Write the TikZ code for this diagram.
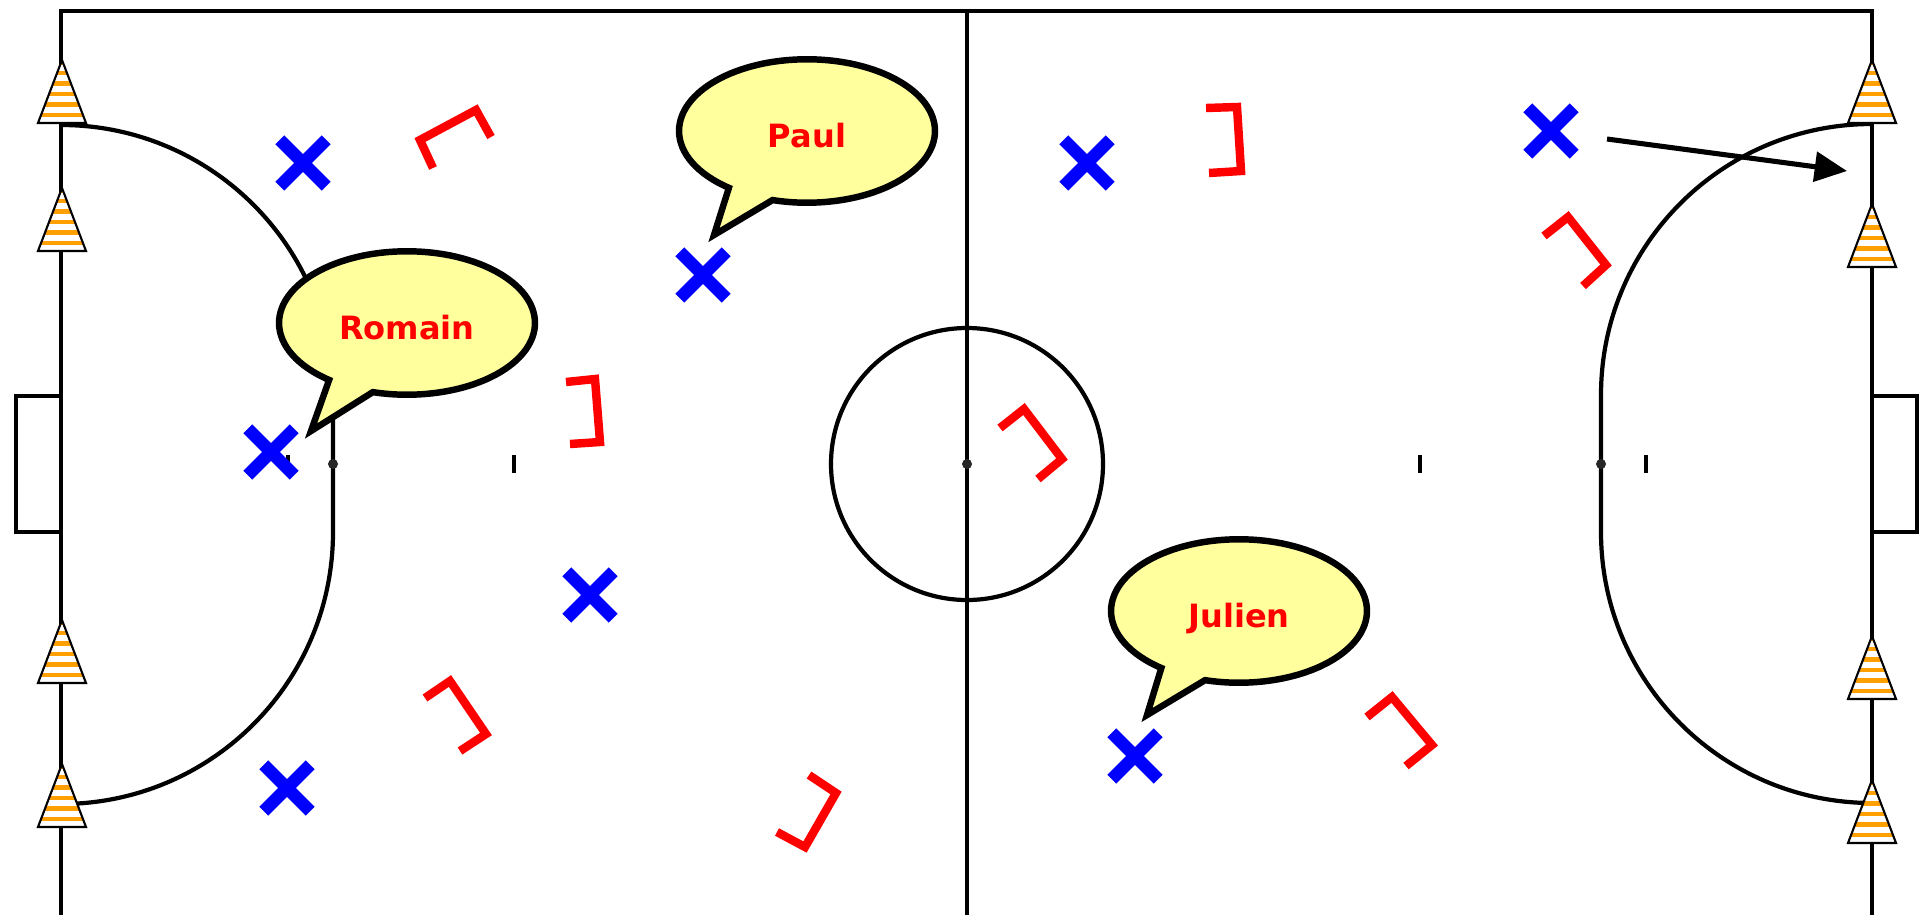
\documentclass[tikz,border=0pt]{standalone}
\usepackage{fontspec}
\setmainfont{DejaVu Sans}
\usetikzlibrary{shapes.callouts,shapes.misc,arrows.meta}
\definecolor{bubbleyellow}{HTML}{FFFF9E}
\definecolor{coneorange}{HTML}{FFA000}
\tikzset{
    fieldline/.style={draw=black, line width=3.3pt},
    arcline/.style={draw=black, line width=3pt},
    crossmark/.style={draw=blue, line width=9pt},
    defender/.style={draw=red, line width=6pt},
    bubble/.style={ellipse callout, draw=black, fill=bubbleyellow, line width=4.6pt,
        minimum width=182pt, minimum height=102pt, inner sep=0pt, outer sep=0pt, text=red,
        font=\fontsize{22.8}{26}\selectfont\bfseries, text height=23.5pt, text depth=0pt,
        callout pointer arc=22},
    conemark/.pic={
        \fill[white] (-24,0) -- (0,-63) -- (24,0) -- cycle;
        \begin{scope}
            \clip (-24,0) -- (0,-63) -- (24,0) -- cycle;
            \foreach \s in {8,18.5,29,39.5,50,60}{
                \fill[coneorange] (-24,-\s-2.3) rectangle (24,-\s+2.3);
            }
        \end{scope}
        \draw[black, line width=1.5pt, line join=miter] (-24,0) -- (0,-63) -- (24,0) -- cycle;
    }
}
\begin{document}
\begin{tikzpicture}[x=0.025cm, y=-0.025cm, >=stealth]
    \useasboundingbox (0,0) rectangle (1924,915);
    \path
    (61,11) coordinate (TL)
    (967,11) coordinate (TM)
    (1872,11) coordinate (TR)
    (61,915) coordinate (BL)
    (967,915) coordinate (BM)
    (1872,915) coordinate (BR)
    (967,464) coordinate (O)
    (333,464) coordinate (PL)
    (1601,464) coordinate (PR)
    (1607,139) coordinate (runA)
    (1847,171) coordinate (runB)
    ;
    % field
    \draw[fieldline] (BL)--(TL)--(TR)--(BR) (TM)--(BM);
    \draw[arcline] (O) circle (136);
    \draw[arcline] (61,125) arc[start angle=-90, end angle=0, radius=272] -- (333,532)
        arc[start angle=0, end angle=90, radius=272];
    \draw[arcline] (1872,124) arc[start angle=-90, end angle=-180, radius=271] -- (1601,532)
        arc[start angle=180, end angle=90, radius=271];
    \draw[fieldline] (61,396) -- (16,396) -- (16,532) -- (61,532);
    \draw[fieldline] (1872,396) -- (1917,396) -- (1917,532) -- (1872,532);

    % spots and ticks
    \foreach \i in {O, PL, PR}{
        \fill[black!85] (\i) circle (5);
    }
    \foreach \x in {288, 514, 1420, 1646}{
        \draw[black, line width=3pt] (\x,455) -- (\x,473);
    }

    % cones
    \foreach \x/\y in {62/123, 62/251, 62/683, 62/827, 1872/123, 1872/267, 1872/699, 1872/843}{
        \pic at (\x,\y) {conemark};
    }

    % defenders
    \foreach \a/\b/\c/\d/\e/\f/\g/\h in {
        433/168/420/140/476/110/491/137,
        566/382/595/379/600/442/570/444,
        425/698/450/681/486/734/460/751,
        777/832/805/847/836/793/809/775,
        1000/428/1024/409/1062/459/1038/479,
        1206/108/1237/107/1241/171/1209/173,
        1544/236/1568/217/1606/265/1583/286,
        1367/717/1392/697/1432/745/1406/766}{
        \draw[defender] (\a,\b) -- (\c,\d) -- (\e,\f) -- (\g,\h);
    }

    % attackers
    \foreach \n/\x/\y in {a/303/163, b/703/275, c/271/452, d/590/595, e/287/788, f/1087/163, g/1135/756, h/1551/131}{
        \node[cross out, crossmark, minimum size=33pt, inner sep=0pt, outer sep=0pt] (\n) at (\x,\y) {};
    }
    \draw[-{Triangle[length=23pt, width=21pt]}, line width=3.6pt] (runA) -- (runB);

    % names
    \node[bubble, callout absolute pointer={(311,431)}] (romain) at (407,323) {Romain};
    \node[bubble, callout absolute pointer={(714,235)}] (paul) at (807,131) {Paul};
    \node[bubble, callout absolute pointer={(1147,715)}] (julien) at (1239,611) {Julien};
\end{tikzpicture}
\end{document}
